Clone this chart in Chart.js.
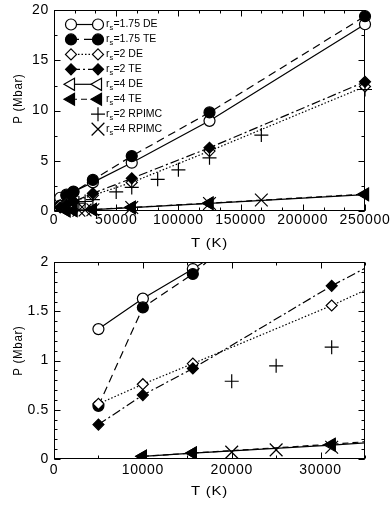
<!DOCTYPE html>
<html>
<head>
<meta charset="utf-8">
<script src="https://cdn.jsdelivr.net/npm/chart.js@4.4.1/dist/chart.umd.min.js"></script>
<style>
  html, body { margin: 0; padding: 0; background: #fff; }
  .panel { position: relative; width: 390px; }
  canvas { display: block; }
</style>
</head>
<body>
<div class="panel" style="height:252px"><canvas id="topChart"></canvas></div>
<div class="panel" style="height:253px"><canvas id="bottomChart"></canvas></div>
<script>
// temperatures of the DE / TE runs (K) and pressures (Mbar)
const tempsDFT = [5000, 10000, 15625, 31250, 62500, 125000, 250000];
const rs175DE = [1.32, 1.63, 1.93, 2.85, 4.81, 8.98, 18.6];
const rs175TE = [0.54, 1.54, 1.88, 3.1, 5.47, 9.82, 19.4];
const rs2DE = [0.56, 0.76, 0.97, 1.56, 2.85, 5.97, 12.4];
const rs2TE = [0.35, 0.65, 0.92, 1.76, 3.25, 6.3, 12.87];
const rs4DE = [null, 0.027, 0.06, 0.14, 0.34, 0.76, 1.64];
const rs4TE = [null, 0.027, 0.06, 0.15, 0.36, 0.78, 1.68];

// RPIMC reference points
const tempsRpimc2 = [20000, 25000, 31250, 50000, 62500, 83333, 100000, 125000, 166667, 250000];
const rs2Rpimc = [0.79, 0.947, 1.136, 1.9, 2.35, 3.15, 4.1, 5.3, 7.56, 12.1];
const tempsRpimc4 = [20000, 25000, 31250, 62500, 125000, 166667];
const rs4Rpimc = [0.07, 0.093, 0.12, 0.35, 0.75, 1.1];

const seriesLabels = ['1.75 DE', '1.75 TE', '2 DE', '2 TE', '4 DE', '4 TE', '2 RPIMC', '4 RPIMC'];

const topXTicks = [0, 50000, 100000, 150000, 200000, 250000];
const topYTicks = [0, 5, 10, 15, 20];
const bottomXTicks = [0, 10000, 20000, 30000];
const bottomYTicks = [0, 0.5, 1, 1.5, 2];

const FONT = "'Liberation Sans', Arial, sans-serif";
const STRETCH = 1.15;

// marker / line look per series (same order as seriesLabels)
const seriesStyles = [
    { pointStyle: 'circle', radius: 5.5, filled: false, dash: [] },
    { pointStyle: 'circle', radius: 5.5, filled: true, dash: [8, 5] },
    { pointStyle: 'rectRot', radius: 5.5, filled: false, dash: [1.5, 2] },
    { pointStyle: 'rectRot', radius: 5.5, filled: true, dash: [9, 3, 2, 3] },
    { pointStyle: 'triangle', rotation: -90, radius: 7, filled: false, dash: [] },
    { pointStyle: 'triangle', rotation: -90, radius: 7, filled: true, dash: [6, 4] },
    { pointStyle: 'cross', radius: 7, noLine: true },
    { pointStyle: 'crossRot', radius: 9, noLine: true }
];

const toPoints = (xs, ys) => xs.map((x, i) => ({ x: x, y: ys[i] })).filter(p => p.y !== null);

function buildDatasets(clip) {
    const series = [
        [tempsDFT, rs175DE], [tempsDFT, rs175TE],
        [tempsDFT, rs2DE], [tempsDFT, rs2TE],
        [tempsDFT, rs4DE], [tempsDFT, rs4TE],
        [tempsRpimc2, rs2Rpimc], [tempsRpimc4, rs4Rpimc]
    ];
    return series.map(([xs, ys], i) => {
        const s = seriesStyles[i];
        return {
            label: seriesLabels[i],
            data: toPoints(xs, ys),
            showLine: !s.noLine,
            borderColor: '#000',
            borderWidth: 1.2,
            borderDash: s.dash || [],
            pointStyle: s.pointStyle,
            pointRotation: s.rotation || 0,
            pointRadius: s.radius,
            pointHoverRadius: s.radius,
            pointBorderColor: '#000',
            pointBackgroundColor: s.filled ? '#000' : '#fff',
            pointBorderWidth: 1.2,
            fill: false,
            tension: 0,
            order: series.length - i,   // later series drawn on top, like gnuplot
            clip: clip
        };
    });
}

function drawText(ctx, text, x, y, size, rotate) {
    ctx.save();
    ctx.translate(x, y);
    if (rotate) {
        ctx.rotate(-Math.PI / 2);
        ctx.scale(1, STRETCH);
    } else {
        ctx.scale(STRETCH, 1);
    }
    ctx.font = size + 'px ' + FONT;
    ctx.fillStyle = '#000';
    ctx.textAlign = 'center';
    ctx.textBaseline = 'middle';
    ctx.fillText(text, 0, 0);
    ctx.restore();
}

// gnuplot-like frame with inward major/minor ticks on all sides, plus axis titles
const frameTicksPlugin = {
    id: 'frameTicks',
    beforeDatasetsDraw(chart, args, opts) {
        const { ctx, chartArea: a, scales: { x, y } } = chart;
        const L = Math.round(a.left) + 0.5, R = Math.round(a.right) - 0.5;
        const T = Math.round(a.top) + 0.5, B = Math.round(a.bottom) - 0.5;
        ctx.save();
        ctx.strokeStyle = '#000';
        ctx.lineWidth = 1;
        ctx.beginPath();
        const xTick = (v, len) => {
            const px = Math.round(x.getPixelForValue(v)) + 0.5;
            ctx.moveTo(px, B); ctx.lineTo(px, B - len);
            ctx.moveTo(px, T); ctx.lineTo(px, T + len);
        };
        const yTick = (v, len) => {
            const py = Math.round(y.getPixelForValue(v)) + 0.5;
            ctx.moveTo(L, py); ctx.lineTo(L + len, py);
            ctx.moveTo(R, py); ctx.lineTo(R - len, py);
        };
        for (let v = x.min; v <= x.max + 1e-6; v += opts.xMinor) xTick(v, 3);
        for (let v = y.min; v <= y.max + 1e-9; v += opts.yMinor) yTick(v, 3);
        opts.xMajor.forEach(v => xTick(v, 6));
        opts.yMajor.forEach(v => yTick(v, 6));
        ctx.stroke();
        ctx.strokeRect(L, T, R - L, B - T);
        ctx.restore();

        drawText(ctx, 'T (K)', (a.left + a.right) / 2, a.bottom + 32, 13, false);
        drawText(ctx, 'P (Mbar)', 18, (a.top + a.bottom) / 2 + opts.yTitleShift, 11.5, true);
    }
};

// legend placed inside the top panel, line sample between two markers
const insideLegendPlugin = {
    id: 'insideLegend',
    afterDatasetsDraw(chart) {
        const ctx = chart.ctx;
        const x0 = 71, x1 = 98, xText = 106, yFirst = 24.5, rowGap = 14.95;
        chart.data.datasets.forEach((ds, i) => {
            const yRow = yFirst + i * rowGap;
            ctx.save();
            ctx.letterSpacing = '0px';
            ctx.strokeStyle = '#000';
            ctx.lineWidth = ds.borderWidth;
            if (ds.showLine) {
                ctx.setLineDash(ds.borderDash);
                ctx.beginPath();
                ctx.moveTo(x0, yRow);
                ctx.lineTo(x1, yRow);
                ctx.stroke();
                ctx.setLineDash([]);
            }
            const pOpts = { pointStyle: ds.pointStyle, rotation: ds.pointRotation, radius: ds.pointRadius, borderWidth: ds.pointBorderWidth };
            ctx.fillStyle = ds.pointBackgroundColor;
            if (ds.showLine) Chart.helpers.drawPoint(ctx, pOpts, x0, yRow);
            Chart.helpers.drawPoint(ctx, pOpts, x1, yRow);

            // "r" + subscript "s" + "=<label>"
            ctx.translate(xText, yRow);
            ctx.fillStyle = '#000';
            ctx.textAlign = 'left';
            ctx.textBaseline = 'middle';
            ctx.font = '10.5px ' + FONT;
            ctx.fillText('r', 0, 0);
            let cx = ctx.measureText('r').width;
            ctx.font = '7.5px ' + FONT;
            ctx.fillText('s', cx, 3.5);
            cx += ctx.measureText('s').width + 0.2;
            ctx.font = '10.5px ' + FONT;
            ctx.fillText('=' + ds.label, cx, 0);
            ctx.restore();
        });
    }
};

const letterSpacingPlugin = {
    id: 'letterSpacing',
    beforeDraw(chart) { chart.ctx.letterSpacing = '0.7px'; }
};

function makeChart(canvasId, cfg) {
    const tickFont = { family: FONT, size: 14 };
    return new Chart(document.getElementById(canvasId), {
        type: 'scatter',
        data: { datasets: buildDatasets(cfg.clip) },
        options: {
            responsive: true,
            maintainAspectRatio: false,
            animation: false,
            events: [],
            layout: { padding: { top: cfg.padTop, right: 25, left: 0, bottom: 0 } },
            plugins: {
                legend: { display: false },
                tooltip: { enabled: false },
                frameTicks: { xMajor: cfg.xTicks, yMajor: cfg.yTicks, xMinor: cfg.xMinor, yMinor: cfg.yMinor, yTitleShift: cfg.yTitleShift }
            },
            scales: {
                x: {
                    type: 'linear',
                    min: 0,
                    max: cfg.xMax,
                    afterBuildTicks: s => { s.ticks = cfg.xTicks.map(v => ({ value: v })); },
                    afterFit: s => { s.height = cfg.xAxisHeight; s.paddingLeft = 0; s.paddingRight = 0; },
                    ticks: { callback: v => String(v), color: '#000', font: tickFont, padding: cfg.xLabelPad, maxRotation: 0, autoSkip: false },
                    grid: { display: false, drawTicks: false },
                    border: { display: false }
                },
                y: {
                    type: 'linear',
                    min: 0,
                    max: cfg.yMax,
                    afterBuildTicks: s => { s.ticks = cfg.yTicks.map(v => ({ value: v })); },
                    afterFit: s => { s.width = 54; s.paddingTop = 0; s.paddingBottom = 0; },
                    ticks: { callback: v => String(v), color: '#000', font: tickFont, padding: 5 },
                    grid: { display: false, drawTicks: false },
                    border: { display: false }
                }
            }
        },
        plugins: cfg.legend
            ? [letterSpacingPlugin, frameTicksPlugin, insideLegendPlugin]
            : [letterSpacingPlugin, frameTicksPlugin]
    });
}

makeChart('topChart', {
    xMax: 250000, yMax: 20,
    xTicks: topXTicks, yTicks: topYTicks,
    xMinor: 50000 / 3, yMinor: 2.5,
    padTop: 10, xAxisHeight: 41, xLabelPad: 1,
    yTitleShift: -12, clip: false, legend: true
});

makeChart('bottomChart', {
    xMax: 35000, yMax: 2,
    xTicks: bottomXTicks, yTicks: bottomYTicks,
    xMinor: 5000, yMinor: 0.1,
    padTop: 5, xAxisHeight: 46, xLabelPad: 3,
    yTitleShift: -10, clip: undefined, legend: false
});
</script>
</body>
</html>
